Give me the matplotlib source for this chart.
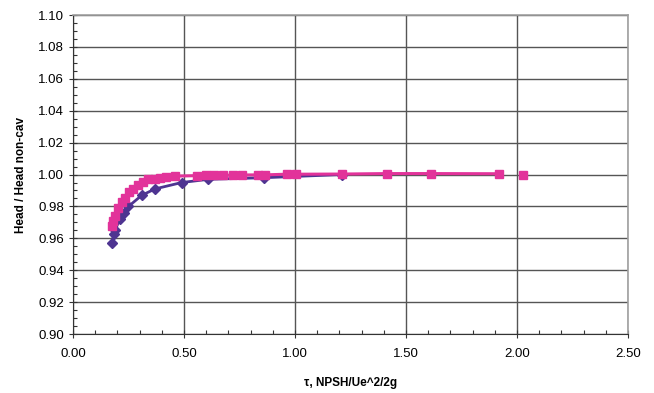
import matplotlib
matplotlib.use("Agg")
import matplotlib.pyplot as plt
from matplotlib.ticker import MultipleLocator, FormatStrFormatter

plt.rcParams['font.family'] = ['Liberation Sans', 'DejaVu Sans']

# purple diamonds
tau_a = [0.175, 0.185, 0.19, 0.21, 0.23, 0.25, 0.31, 0.37, 0.49, 0.61, 0.86, 1.21]
head_a = [0.957, 0.963, 0.965, 0.972, 0.976, 0.980, 0.987, 0.991, 0.995, 0.997, 0.998, 1.000]

# pink squares
tau_b = [0.176, 0.18, 0.189, 0.203, 0.22, 0.234, 0.252, 0.27, 0.293, 0.315, 0.338,
         0.369, 0.392, 0.42, 0.46, 0.559, 0.60, 0.635, 0.676, 0.72, 0.76, 0.833,
         0.865, 0.964, 1.005, 1.21, 1.414, 1.613, 1.92]
head_b = [0.968, 0.971, 0.974, 0.979, 0.983, 0.9855, 0.989, 0.991, 0.9937, 0.9956, 0.997,
          0.9975, 0.998, 0.9987, 0.999, 0.9993, 0.9995, 0.9995, 0.9996, 0.9996, 0.9997, 0.9998,
          0.9998, 1.0002, 1.0002, 1.0003, 1.0006, 1.0006, 1.0005]
tau_c = [2.025]
head_c = [1.0]

purple = '#4e3491'
pink = '#e2339a'

fig = plt.figure(figsize=(6.54, 3.93), dpi=100)
ax = fig.add_axes([0.1116, 0.150, 0.8486, 0.8118])

ax.plot(tau_a, head_a, color=purple, marker='D', markersize=5, linewidth=2, zorder=3)
ax.plot(tau_b, head_b, color=pink, marker='s', markersize=5.5, linewidth=2.2, zorder=4)
ax.plot(tau_c, head_c, color=pink, marker='s', markersize=5.5, linestyle='none', zorder=4)

ax.set_xlim(0, 2.5)
ax.set_ylim(0.90, 1.10)
ax.xaxis.set_major_locator(MultipleLocator(0.5))
ax.xaxis.set_minor_locator(MultipleLocator(0.1))
ax.yaxis.set_major_locator(MultipleLocator(0.02))
ax.yaxis.set_minor_locator(MultipleLocator(0.005))
ax.xaxis.set_major_formatter(FormatStrFormatter('%.2f'))
ax.yaxis.set_major_formatter(FormatStrFormatter('%.2f'))

ax.grid(True, which='major', color='#555555', linewidth=1)
ax.set_axisbelow(True)
ax.tick_params(which='major', direction='inout', length=6, width=0.8, labelsize=9.5, color='#333333')
ax.tick_params(which='minor', direction='in', length=3, width=0.8, color='#333333')
ax.tick_params(axis='x', pad=7)

for s in ['top', 'right']:
    ax.spines[s].set_color('#a0a0a0')
    ax.spines[s].set_linewidth(1.2)
for s in ['left', 'bottom']:
    ax.spines[s].set_color('#333333')
    ax.spines[s].set_linewidth(0.8)

ax.set_xlabel('τ, NPSH/Ue^2/2g', fontsize=8.5, fontweight='bold', labelpad=12)
ax.set_ylabel('Head / Head non-cav', fontsize=8.5, fontweight='bold', labelpad=8)

fig.savefig('out.png', dpi=100)
